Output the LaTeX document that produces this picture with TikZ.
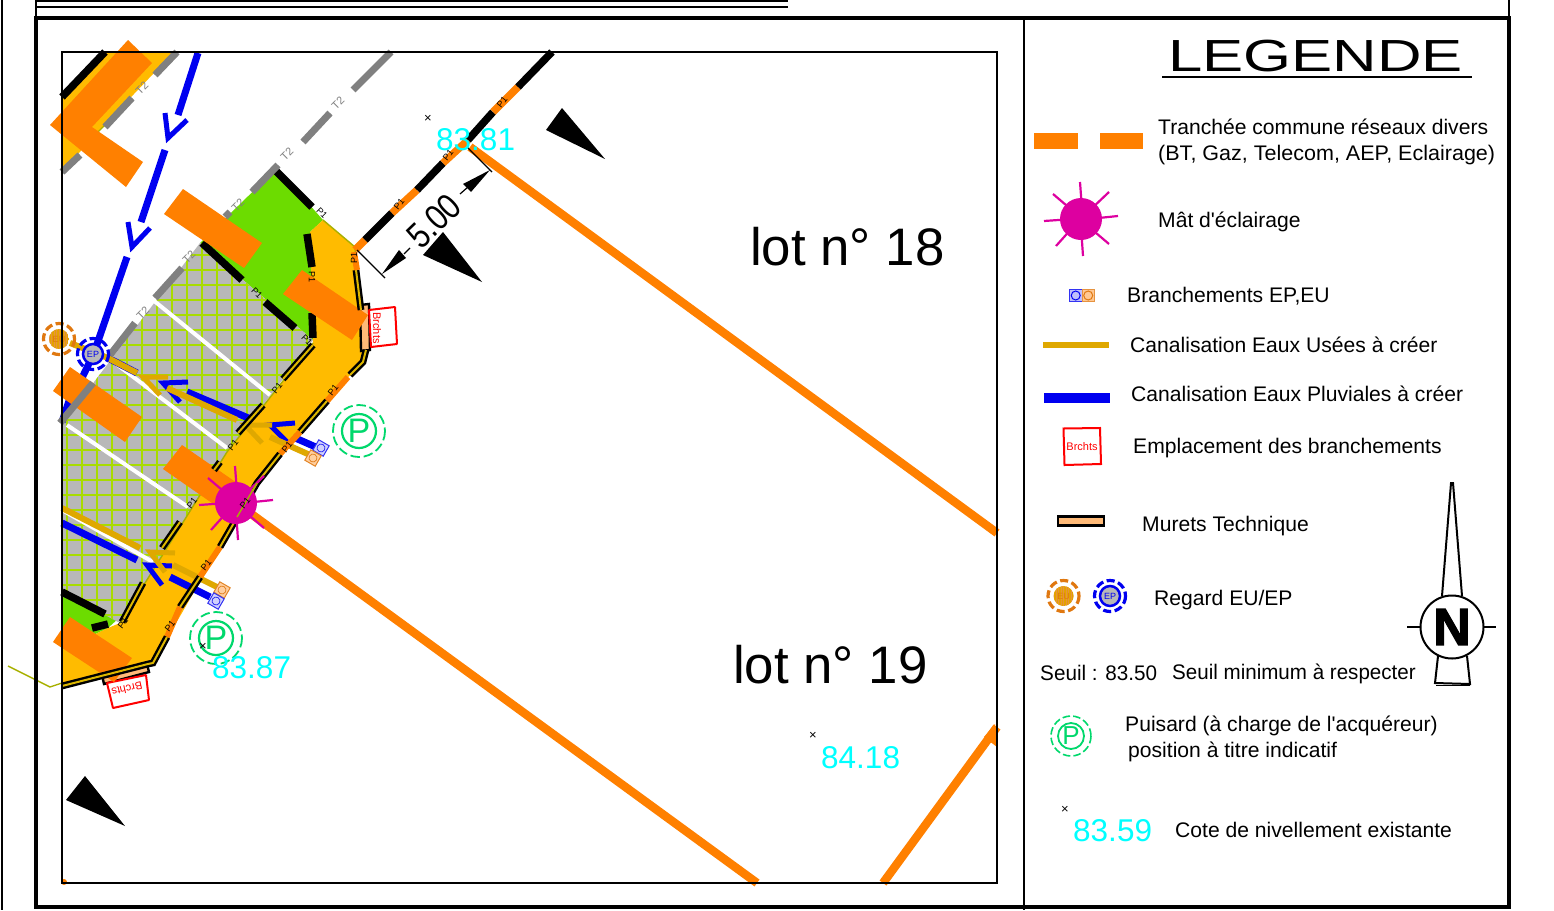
\documentclass[tikz,border=0pt]{standalone}
\usepackage{fontspec}
\setmainfont{Liberation Sans}
\newfontfamily\plainf{Liberation Sans}
\newfontfamily\nfont[FakeBold=2.5]{Liberation Sans Bold}
\definecolor{roadc}{HTML}{FFBB00}
\definecolor{orangec}{HTML}{FF8000}
\definecolor{greenc}{HTML}{6CDC00}
\definecolor{greyc}{HTML}{B8B8B8}
\definecolor{hatchc}{HTML}{A8DC00}
\definecolor{goldc}{HTML}{DFA800}
\definecolor{bluec}{HTML}{0000F0}
\definecolor{lampc}{HTML}{DD00A0}
\definecolor{peachc}{HTML}{FFBA78}
\definecolor{pgreen}{HTML}{00D86C}
\definecolor{cyanc}{HTML}{00FFFF}
\definecolor{olivec}{HTML}{A8B000}
\definecolor{eupc}{HTML}{E07810}
\definecolor{tgrey}{HTML}{808080}
\tikzset{
  x=1pt,y=-1pt,
  bar/.style={fill=orangec,draw=none},
  lotline/.style={draw=orangec,line width=8.5},
  blk/.style={draw=black,line width=7.5},
  tlin/.style={draw=tgrey,line width=7},
  org/.style={draw=orangec,line width=7.5},
  whit/.style={draw=white,line width=4},
  blu/.style={draw=bluec,line width=7},
  gld/.style={draw=goldc,line width=6},
  bluv/.style={draw=bluec,line width=5,line join=miter},
  gldv/.style={draw=goldc,line width=5,line join=miter},
  curb/.style={draw=black,line width=2.4,double=olivec!40!roadc,double distance=2},
  corg/.style={draw=orangec,line width=6},
  p1lab/.style={font=\fontsize{9}{9}\selectfont,text=black,inner sep=0},
  t2lab/.style={font=\fontsize{11}{11}\selectfont,text=tgrey,inner sep=0},
  lg/.style={anchor=base west,inner sep=0,font=\fontsize{21.1}{21.1}\selectfont\plainf},
  cote/.style={anchor=base west,inner sep=0,text=cyanc,font=\fontsize{31.5}{31.5}\selectfont},
  lot/.style={anchor=base west,inner sep=0,font=\fontsize{52.8}{52.8}\selectfont},
  xm/.style={inner sep=0,font=\fontsize{13}{13}\selectfont},
  brc/.style={text=red,inner sep=0,font=\fontsize{11}{11}\selectfont},
  lamp/.pic={
    \draw[lampc,line width=2.2] (-1,-37) -- (1,-10) (28,-27) -- (8,-8) (37,-3) -- (8,0) (28,25) -- (8,8)
      (2,37) -- (0,8) (-25,27) -- (-8,8) (-37,2) -- (-8,0) (-28,-25) -- (-8,-8);
    \fill[lampc] (0,0) circle (21);
  },
  pmark/.pic={
    \draw[pgreen,line width=1.8,dash pattern=on 9.5 off 3.8] (0,0) circle (26);
    \draw[pgreen,line width=2.2] (0,0) circle (17);
  },
  eureg/.pic={
    \begin{scope}
      \clip (0,0) circle (10);
      \fill[goldc!85!orange] (-10,-10) rectangle (10,10);
      \draw[eupc!80,line width=.5,step=2.5] (-10,-10) grid (10,10);
    \end{scope}
    \draw[eupc,line width=3.2,dash pattern=on 8 off 3.6] (0,0) circle (15.5);
  },
  epreg/.pic={
    \draw[bluec,line width=2.5,fill=greyc] (0,0) circle (10);
    \draw[bluec,line width=3.2,dash pattern=on 8 off 3.6] (0,0) circle (15.5);
  },
  bbox/.pic={
    \draw[bluec!80,fill=bluec!18,line width=1] (-6,-6) rectangle (6,6);
    \draw[bluec!80,line width=.8] (0,0) circle (4);
  },
  obox/.pic={
    \draw[eupc!90,fill=peachc!70,line width=1] (-6,-6) rectangle (6,6);
    \draw[eupc!90,line width=.8] (0,0) circle (4);
  },
}
\begin{document}
\begin{tikzpicture}
\useasboundingbox (0,0) rectangle (1554,910);
\fill[white] (0,0) rectangle (1554,910);
% ---- surfaces
\path[fill=greenc] (200,243) -- (277,168) -- (323,220) -- (310,232) -- (313,340) -- cycle;
\path[fill=greenc] (62,590) -- (120,617) -- (108,628) -- (62,650) -- cycle;
\begin{scope}
  \clip (62,424) -- (200,243) -- (313,340) -- (227,452) -- (120,623) -- (62,592) -- cycle;
  \fill[greyc] (55,235) rectangle (320,630);
  \foreach \k in {0,...,17} {\draw[hatchc,line width=1.8] (67+15*\k,235) -- (67+15*\k,630);}
  \foreach \k in {0,...,26} {\draw[hatchc,line width=1.8] (55,240+15*\k) -- (320,240+15*\k);}
\end{scope}
\path[fill=roadc] (323,220) -- (355,247) -- (358,290) -- (363,357) -- (350,375) -- (257,483) -- (153,663) -- (62,686) -- (62,650)
  -- (108,628) -- (120,623) -- (227,452) -- (313,343) -- (310,232) -- cycle;
\path[fill=roadc] (107,53) -- (173,53) -- (95,135) -- (62,172) -- (62,97) -- cycle;
% ---- thin limits
\draw[olivec,line width=1.4] (323,220) -- (355,247) -- (358,290);
\draw[olivec,line width=1.4] (313,343) -- (227,452) -- (120,623);
\draw[olivec,line width=1.4] (8,666) -- (50,687) -- (62,683);
\draw[olivec,line width=1.4] (132,98) -- (95,135);
% ---- white parking lines
\draw[whit] (153,300) -- (270,395);
\draw[whit] (107,357) -- (227,448);
\draw[whit] (67,425) -- (188,507);
\draw[whit] (62,510) -- (153,562);
% ---- lot lines
\draw[lotline] (470,147) -- (997,533);
\draw[lotline] (250,513) -- (757,883);
\draw[lotline] (883,883) -- (997,727);
\fill[orangec] (984,737) -- (995,724) -- (997,747) -- cycle;
\fill[orangec] (64,882) circle (3);
% ---- frontage
\draw[org] (355,250) -- (365,240);
\draw[blk] (365,240) -- (392,213);
\draw[org] (392,213) -- (417,190);
\draw[blk] (417,190) -- (443,163);
\draw[org] (443,163) -- (468,140);
\draw[blk] (468,140) -- (493,112);
\draw[org] (493,112) -- (518,87);
\draw[blk] (518,87) -- (552,52);
% ---- black and grey lines
\draw[blk] (62,97) -- (105,52);
\draw[blk] (273,168) -- (312,207);
\draw[blk] (307,234) -- (312,267);
\draw[blk] (312,313) -- (313,338);
\draw[blk] (202,243) -- (242,280);
\draw[blk] (265,302) -- (295,328);
\draw[blk] (62,592) -- (105,614);
\draw[blk] (92,628) -- (108,624);
% ---- branch lines
\draw[blu] (108,358) -- (137,373);
\draw[blu] (187,392) -- (253,420);
\draw[blu] (293,437) -- (318,448);
\draw[blu] (62,523) -- (137,560);
\draw[blu] (170,577) -- (210,597);
\draw[bluv] (188,382) -- (163,383) -- (180,402);
\draw[bluv] (295,423) -- (270,425) -- (287,442);
\draw[bluv] (172,566) -- (147,565) -- (162,585);
\draw[gld] (70,343) -- (108,358) -- (137,373);
\draw[gld] (167,388) -- (237,420);
\draw[gld] (270,437) -- (310,455);
\draw[gld] (62,508) -- (140,548);
\draw[gld] (173,565) -- (217,587);
\draw[gldv] (168,377) -- (143,377) -- (160,395);
\draw[gldv] (272,425) -- (245,425) -- (262,443);
\draw[gldv] (175,553) -- (150,552) -- (165,572);
% ---- main rain pipe
\draw[blu] (198,53) -- (178,115);
\draw[bluv] (165,113) -- (168,138) -- (187,120);
\draw[blu] (165,150) -- (141,222);
\draw[bluv] (128,222) -- (132,247) -- (150,228);
\draw[blu] (127,257) -- (95,350);
\draw[blu] (93,355) -- (82,378);
\draw[blu] (62,422) -- (72,392);
% ---- murets and branch boxes
\draw[black,line width=2.4,fill=peachc] (360,305) -- (369,304) -- (370,350) -- (361,351) -- cycle;
\draw[black,line width=2.4,fill=peachc] (102,675) -- (147,664) -- (149,672) -- (104,684) -- cycle;
\draw[red,line width=2,fill=white,rounded corners=.5] (369,310) -- (395,307) -- (397,344) -- (371,347) -- cycle;
\node[brc,rotate=-90] (brcha) at (377,328) {Brchts};
\draw[red,line width=2,fill=white,rounded corners=.5] (107,683) -- (146,675) -- (149,700) -- (113,708) -- cycle;
\node[brc,rotate=193] (brchb) at (127,689) {Brchts};
% ---- orange trench bars
\path[bar] (128,40) -- (152,63) -- (92,127) -- (143,162) -- (126,187) -- (50,125) -- cycle;
\path[bar] (183,189) -- (262,243) -- (244,268) -- (164,214) -- cycle;
\path[bar] (302,270) -- (368,315) -- (352,340) -- (283,294) -- cycle;
\path[bar] (70,367) -- (142,417) -- (125,442) -- (53,391) -- cycle;
\path[bar] (182,445) -- (240,485) -- (222,510) -- (163,469) -- cycle;
\path[bar] (70,617) -- (132,658) -- (114,682) -- (53,642) -- cycle;
% ---- T2 grey dashes
\draw[tlin] (62,172) -- (80,155);
\draw[tlin] (105,127) -- (132,98);
\draw[tlin] (155,75) -- (177,52);
\draw[tlin] (353,90) -- (391,52);
\draw[tlin] (303,142) -- (330,113);
\draw[tlin] (252,192) -- (278,165);
\draw[tlin] (225,217) -- (230,212);
\draw[tlin] (155,298) -- (182,268);
\draw[tlin] (110,355) -- (135,323);
\draw[tlin] (60,423) -- (93,383);
% ---- curbs
\draw[curb] (356,270) -- (361,310);
\draw[curb] (366,350) -- (363,362) -- (350,375);
\draw[corg] (348,377) -- (327,401);
\draw[curb] (327,401) -- (300,432);
\draw[corg] (300,432) -- (280,454);
\draw[curb] (280,454) -- (257,483) -- (220,547);
\draw[corg] (220,547) -- (200,577);
\draw[curb] (200,577) -- (180,607);
\draw[corg] (180,607) -- (167,637);
\draw[curb] (167,637) -- (153,663) -- (148,664) -- (62,686);
\draw[corg] (354,252) -- (357,270);
\draw[curb] (313,345) -- (283,379);
\draw[curb] (263,405) -- (238,433);
\draw[curb] (220,462) -- (214,470);
\draw[curb] (180,522) -- (162,548);
\draw[curb] (143,583) -- (122,622);
% ---- lamp (map)
\pic at (236,503) {lamp};
\draw[olivec,line width=1.4] (257,483) -- (237,517);
% ---- regards and boxes
\pic at (59,339) {eureg};
\pic at (93,354) {epreg};
\node[inner sep=0,text=eupc,font=\fontsize{9}{9}\selectfont] (regeu) at (59,339) {EU};
\node[inner sep=0,text=bluec,font=\fontsize{9}{9}\selectfont] (regep) at (93,354) {EP};
\pic[rotate=-30] at (321,448) {bbox};
\pic[rotate=-30] at (313,458) {obox};
\pic[rotate=-30] at (222,590) {obox};
\pic[rotate=-30] at (216,601) {bbox};
% ---- P marks
\pic at (359,431) {pmark};
\node[inner sep=0,text=pgreen,font=\fontsize{34}{34}\selectfont] (pa) at (359,431) {P};
\pic at (216,638) {pmark};
\node[inner sep=0,text=pgreen,font=\fontsize{34}{34}\selectfont] (pb) at (216,638) {P};
% ---- small labels
\foreach \x/\y in {142/88,338/103,287/154,238/205,189/257,143/313}{\node[t2lab,rotate=45] at (\x,\y) {T2};}
\foreach \x/\y in {502/102,448/155,399/204,333/390,287/447,245/503,206/565,170/626}{\node[p1lab,rotate=52] at (\x,\y) {P1};}
\foreach \x/\y in {322/213,257/293,307/340}{\node[p1lab,rotate=-45] at (\x,\y) {P1};}
\foreach \x/\y in {277/388,233/445,192/503,123/623}{\node[p1lab,rotate=52] at (\x,\y) {P1};}
\node[p1lab,rotate=90] at (354,258) {P1};
\node[p1lab,rotate=-90] at (312,277) {P1};
% ---- triangles
\fill[black] (443,232) -- (423,255) -- (482,282) -- cycle;
\fill[black] (562,108) -- (546,130) -- (605,159) -- cycle;
\fill[black] (85,776) -- (66,800) -- (125,826) -- cycle;
% ---- dimension
\coordinate (da) at (357,250); \coordinate (db) at (385,278);
\coordinate (dc) at (467,147); \coordinate (dd) at (492,172);
\draw[black,line width=1.3] (da) -- (db);
\draw[black,line width=1.3] (dc) -- (dd);
\fill[black] (382,274) -- (399,250) -- (406,258) -- cycle;
\fill[black] (490,170) -- (463,184) -- (471,192) -- cycle;
\draw[black,line width=1.2] (404,254) -- (410,248);
\draw[black,line width=1.2] (460,194) -- (468,187);
\node[inner sep=0,rotate=44,font=\fontsize{36}{36}\selectfont] (dim) at (434,221) {\scalebox{.85}[1]{5.00}};
% ---- frames
\draw[black,line width=1.8] (62,52) rectangle (997,883);
\draw[black,line width=3.4] (36,18) rectangle (1509,907);
\draw[black,line width=1.8] (1024,18) -- (1024,910);
\draw[black,line width=1.5] (2,0) -- (2,910);
\draw[black,line width=1.5] (1509,0) -- (1509,18);
\draw[black,line width=1.5] (36,0) -- (36,18);
\draw[black,line width=2] (36,1.2) -- (788,1.2);
\draw[black,line width=2] (36,7) -- (788,7);
% ---- cotes
\node[xm] (xa) at (428,119) {×};
\node[xm] (xb) at (203,647) {×};
\node[xm] (xc) at (813,736) {×};
\node[xm] (xd) at (1065,810) {×};
\node[cote] (ca) at (436,150) {83.81};
\node[cote] (cb) at (212,678) {83.87};
\node[cote] (cc) at (821,768) {84.18};
\node[cote] (cd) at (1073,841) {83.59};
\node[lot] (lota) at (750,265) {lot n° 18};
\node[lot] (lotb) at (733,683) {lot n° 19};
% ---- legend
\node[anchor=base west,inner sep=0,font=\fontsize{45}{45}\selectfont] (leg) at (1168,71) {\scalebox{1.37}[1]{LEGENDE}};
\draw[black,line width=1.8] (1162,77) -- (1472,77);
\draw[orangec,line width=16] (1034,141) -- (1078,141);
\draw[orangec,line width=16] (1100,141) -- (1143,141);
\node[lg] (t1) at (1158,134) {Tranchée commune réseaux divers};
\node[lg] (t2) at (1158,160) {\scalebox{1.02}[1]{(BT, Gaz, Telecom, AEP, Eclairage)}};
\pic at (1081,219) {lamp};
\node[lg] (t3) at (1158,227) {Mât d'éclairage};
\draw[bluec!80,fill=bluec!25,line width=1] (1069.5,289.5) rectangle (1082,301.5);
\draw[bluec,line width=1] (1075.7,295.5) circle (4.5);
\draw[eupc!80,fill=peachc!80,line width=1] (1082,289.5) rectangle (1094.5,301.5);
\draw[eupc,line width=1] (1088.2,295.5) circle (4.5);
\node[lg] (t4) at (1127,302) {Branchements EP,EU};
\draw[goldc,line width=6.5] (1043,345) -- (1109,345);
\node[lg] (t5) at (1130,352) {Canalisation Eaux Usées à créer};
\draw[bluec,line width=10.5] (1044,398) -- (1110,398);
\node[lg] (t6) at (1131,401) {Canalisation Eaux Pluviales à créer};
\draw[red,line width=2] (1063.5,428.5) -- (1100,428) -- (1101,464) -- (1064.5,465) -- cycle;
\node[brc] (brl) at (1082,447) {Brchts};
\node[lg] (t7) at (1133,453) {Emplacement des branchements};
\draw[black,line width=2.4,fill=peachc] (1058,516.5) rectangle (1104,525.5);
\node[lg] (t8) at (1142,531) {Murets Technique};
\pic at (1063.5,596) {eureg};
\node[inner sep=0,text=eupc,font=\fontsize{9}{9}\selectfont] (legeu) at (1063.5,596) {EU};
\pic at (1110,596) {epreg};
\node[inner sep=0,text=bluec,font=\fontsize{9}{9}\selectfont] (legep) at (1110,596) {EP};
\node[lg] (t9) at (1154,605) {Regard EU/EP};
\node[lg] (t10) at (1040,680) {\scalebox{.98}[1]{Seuil : 83.50}};
\node[lg] (t11) at (1172,679) {\scalebox{.975}[1]{Seuil minimum à respecter}};
\draw[pgreen,line width=1.6,dash pattern=on 7.5 off 3.2] (1071,736) circle (20);
\draw[pgreen,line width=1.8] (1071,736) circle (13);
\node[inner sep=0,text=pgreen,font=\fontsize{26}{26}\selectfont] (pl) at (1071,736) {P};
\node[lg] (t12) at (1125,731) {Puisard (à charge de l'acquéreur)};
\node[lg] (t13) at (1128,757) {position à titre indicatif};
\node[lg] (t14) at (1175,837) {Cote de nivellement existante};
% ---- north arrow
\draw[black,line width=2] (1442,596) -- (1451,483) -- (1453,483) -- (1462,596);
\draw[black,line width=2] (1438,656) -- (1435,683) -- (1470,684) -- (1467,656);
\draw[black,line width=1] (1436,685) -- (1470,685);
\draw[black,line width=2] (1452,627) circle (31.5);
\coordinate (na) at (1407,627); \coordinate (nb) at (1420,627);
\coordinate (nc) at (1484,627); \coordinate (nd) at (1496,627);
\draw[black,line width=1.4] (na) -- (nb) (nc) -- (nd);
\node[inner sep=0,font=\fontsize{52}{52}\selectfont\nfont] (nn) at (1452,627) {N};
\end{tikzpicture}
\end{document}
